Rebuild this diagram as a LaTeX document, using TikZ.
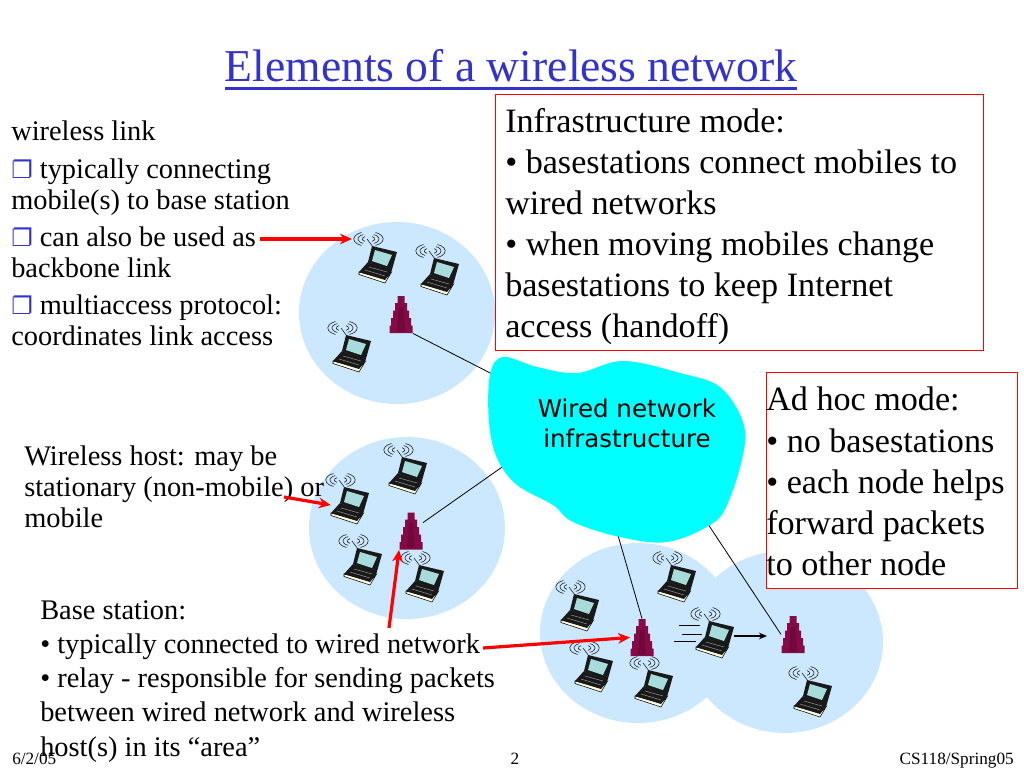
\documentclass[tikz,border=0pt]{standalone}
\usepackage{fontspec}
\setmainfont{Liberation Serif}
\newfontfamily\dejavu{DejaVu Sans}
\usetikzlibrary{arrows.meta}

\definecolor{cellblue}{HTML}{CCE8FF}
\definecolor{cloudcyan}{HTML}{00FFFF}
\definecolor{towerred}{HTML}{850A46}
\definecolor{titleblue}{HTML}{3333CC}
\definecolor{screenteal}{HTML}{A8DCDC}

\newcommand{\boxbullet}{{\dejavu\fontsize{18}{18}\bfseries\selectfont\textcolor{titleblue}{❐}}}

\tikzset{
  cell/.style={fill=cellblue,draw=none},
  wireline/.style={draw=black,line width=0.6pt},
  redarrow/.style={draw=red,line width=2.4pt,-{Stealth[length=9pt,width=8pt]}},
  redbox/.style={draw=red,fill=white,line width=0.6pt},
  lapbox/.style={inner sep=0pt,minimum width=28.5pt,minimum height=27pt},
  towerbox/.style={inner sep=0pt,minimum width=17.5pt,minimum height=28pt},
  smalltext/.style={anchor=north west,inner sep=0pt,align=left,font=\fontsize{21.3}{23}\selectfont},
  midtext/.style={anchor=north west,inner sep=0pt,align=left,font=\fontsize{21.3}{25.7}\selectfont},
  bigtext/.style={anchor=north west,inner sep=0pt,align=left,font=\fontsize{25.6}{30.8}\selectfont},
  footer/.style={inner sep=0pt,font=\fontsize{12.9}{15}\selectfont},
  laptop/.pic={
    % antenna and waves
    \draw[line width=0.45pt,black!85] (-5,-17) -- (-11,-25);
    \foreach \r in {4,7.5,11} {
      \draw[line width=0.45pt,black!85] (-11,-25) ++(115:\r*1.2 and \r*0.65) arc[start angle=115,end angle=245,x radius=\r*1.2,y radius=\r*0.65];
      \draw[line width=0.45pt,black!85] (-8,-25) ++(65:\r*1.2 and \r*0.65) arc[start angle=65,end angle=-65,x radius=\r*1.2,y radius=\r*0.65];
    }
    % base, lid, screen
    \fill[yellow!12!white,draw=black,line width=0.4pt] (-19,8) -- (7,15) -- (13,9) -- (7,19) -- (-19,10.5) -- cycle;
    \fill[black!90] (-19,8) -- (-10,-2) -- (13,8) -- (7,16) -- cycle;
    \fill[black!90] (-6,-18) -- (19,-12) -- (13,9) -- (-10,-2) -- cycle;
    \fill[screenteal] (-3,-14) -- (14,-9) -- (9,2) -- (-6,-3) -- cycle;
    \draw[white!60!black,line width=0.35pt] (-13,6) -- (7,12) (-9,3) -- (9,8);
  },
  tower/.pic={
    \fill[towerred] (-11.5,18.5) -- (-11.5,11) -- (-10,11) -- (-10,3.5) -- (-8,3.5) -- (-8,-4)
      -- (-6,-4) -- (-6,-11.5) -- (-3.5,-11.5) -- (-3.5,-18.5) -- (3.5,-18.5) -- (3.5,-11.5) -- (6,-11.5)
      -- (6,-4) -- (8,-4) -- (8,3.5) -- (10,3.5) -- (10,11) -- (11.5,11) -- (11.5,18.5) -- cycle;
    \fill[towerred!85!black] (-4,17) -- (-2,-8) -- (2,-8) -- (4,17) -- cycle;
  }
}

\begin{document}
\begin{tikzpicture}[x=0.75pt,y=-0.75pt]
\useasboundingbox (0,0) rectangle (1024,768);
\fill[white] (0,0) rectangle (1024,768);

% cells
\fill[cell] (397,313) ellipse [x radius=98,y radius=91];
\fill[cell] (407,528) ellipse [x radius=98,y radius=91];
\fill[cell] (638,633) ellipse [x radius=98,y radius=90];
\fill[cell] (785,642) ellipse [x radius=98,y radius=91];

% base stations
\foreach \n/\x/\y in {bsa/401/314.5,bsb/411/531,bsc/642/637.5,bsd/793/634.5} {
  \node[towerbox] (\n) at (\x,\y) {};
}

% wired links
\coordinate (clouda) at (500,378);
\coordinate (cloudb) at (515,458);
\coordinate (cloudc) at (615,525);
\coordinate (cloudd) at (700,512);
\draw[wireline] (bsa.south east) -- (clouda);
\draw[wireline] (bsb) -- (cloudb);
\draw[wireline] (bsc.north) -- (cloudc);
\draw[wireline] (bsd.west) -- (cloudd);

% cloud
\fill[cloudcyan] plot[smooth cycle,tension=0.6] coordinates {(503,357) (537,367) (577,373) (623,361)
  (680,373) (720,387) (743,422) (743,455) (727,505) (710,525) (667,542) (620,537) (573,522)
  (553,505) (517,485) (497,458) (489,422) (490,375)};
\node[align=center,inner sep=0pt,font=\dejavu\fontsize{18.4}{22.5}\selectfont] (wired) at (627,423) {Wired network\\infrastructure};

% hosts
\foreach \n/\x/\y in {lapa/378/264,lapb/440/276,lapc/352/353,
  lapd/408/475,lape/350/505,lapf/363/566,lapg/425/583,
  laph/580/612,lapi/677/583,lapj/594/673,lapk/654/688,lapl/715/639,lapm/813/698} {
  \node[lapbox] (\n) at (\x,\y) {};
  \pic at (\n) {laptop};
}

% towers on top
\foreach \n in {bsa,bsb,bsc,bsd} {
  \pic at (\n) {tower};
}

% moving host
\coordinate (mova) at (679,625);
\coordinate (movb) at (700,625);
\coordinate (movc) at (682,634);
\coordinate (movd) at (702,634);
\coordinate (move) at (674,641);
\coordinate (movf) at (696,641);
\draw[wireline] (mova) -- (movb);
\draw[wireline] (movc) -- (movd);
\draw[wireline] (move) -- (movf);
\coordinate (hopa) at (767,636);
\draw[wireline,line width=0.9pt,-{Stealth[length=6pt,width=5pt]}] (lapl.east) ++(0,-3) -- (hopa);

% red boxes
\draw[redbox] (495,94) rectangle (983,350);
\draw[redbox] (766,372) rectangle (1017,588);

% title
\node[inner sep=0pt,text=titleblue,font=\fontsize{34.2}{40}\selectfont] (title) at (511,66) {Elements of a wireless network};
\draw[titleblue,line width=1.6pt] ([yshift=-4.5pt]title.south west) -- ([yshift=-4.5pt]title.south east);

% left text
\node[smalltext] (linkhead) at (11,121) {wireless link};
\node[smalltext] (linka) at (11,159) {\boxbullet{} typically connecting\\mobile(s) to base station};
\node[smalltext] (linkb) at (11,227) {\boxbullet{} can also be used as\\backbone link};
\node[smalltext] (linkc) at (11,295) {\boxbullet{} multiaccess protocol:\\coordinates link access};
\node[smalltext] (hosttext) at (24,446) {Wireless host: may be\\stationary (non-mobile) or\\mobile};
\node[midtext] (basetext) at (40,600) {Base station:\\• typically connected to wired network\\• relay - responsible for sending packets\\between wired network and wireless\\host(s) in its “area”};

% mode boxes
\node[bigtext] (infratext) at (505,108) {Infrastructure mode:\\• basestations connect mobiles to\\wired networks\\• when moving mobiles change\\basestations to keep Internet\\access (handoff)};
\node[bigtext] (adhoctext) at (766,387) {Ad hoc mode:\\• no basestations\\• each node helps\\forward packets\\to other node};

% red arrows
\coordinate (starta) at (260,239);
\coordinate (tipa) at (352,239);
\coordinate (startb) at (284,497);
\coordinate (startc) at (389,628);
\coordinate (startd) at (483,648);
\draw[redarrow] (starta) -- (tipa);
\draw[redarrow] (startb) -- (lape.west);
\draw[redarrow] (startc) -- (bsb.south west);
\draw[redarrow] (startd) -- (bsc.west);

% footer
\node[footer,anchor=base west] (date) at (12,764) {6/2/05};
\node[footer,anchor=base] (page) at (515,764) {2};
\node[footer,anchor=base east] (course) at (1014,764) {CS118/Spring05};
\end{tikzpicture}
\end{document}
